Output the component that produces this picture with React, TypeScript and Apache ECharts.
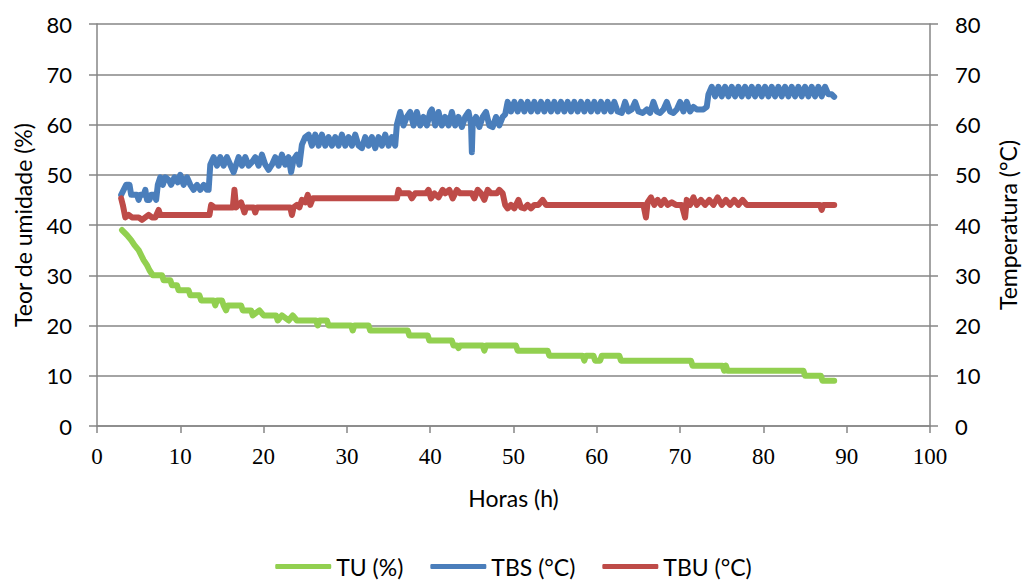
import React, { useEffect, useRef } from "react";
import * as echarts from "echarts";

const xTicks = [0, 10, 20, 30, 40, 50, 60, 70, 80, 90, 100];
const seriesNames = ["TU (%)", "TBS (°C)", "TBU (°C)"];
const colors = ["#92D050", "#4A7EBB", "#BE4B48"];

const tuData: number[][] = [
  [3, 39], [3.6, 38], [4.1, 37], [4.5, 36], [5, 35], [5.3, 34], [5.6, 33], [6, 32], [6.3, 31], [6.7, 30],
  [7.8, 30], [8, 29], [8.8, 29], [9, 28], [9.6, 28], [9.8, 27], [11, 27], [11.2, 26], [12.3, 26], [12.5, 25],
  [14, 25], [14.2, 24], [14.4, 25], [15, 25], [15.2, 24], [15.5, 23], [15.7, 24], [17.3, 24], [17.5, 23],
  [18.5, 23], [18.7, 22], [19.5, 23], [20, 22], [21.5, 22], [21.7, 21], [22.2, 22], [23, 21], [23.5, 22],
  [24, 21], [26.3, 21], [26.5, 20], [26.7, 21], [27.6, 21], [27.8, 20], [30.5, 20], [30.7, 19], [30.9, 20],
  [32.6, 20], [32.8, 19], [37.3, 19], [37.5, 18], [39.7, 18], [39.9, 17], [42.6, 17], [42.8, 16], [43.2, 16],
  [43.4, 15.5], [43.6, 16], [46.3, 16], [46.5, 15], [46.7, 16], [50.3, 16], [50.5, 15], [54.1, 15], [54.3, 14],
  [58.3, 14], [58.5, 13], [58.7, 14], [59.6, 14], [59.8, 13], [60.4, 13], [60.6, 14], [62.7, 14], [62.9, 13],
  [71.3, 13], [71.5, 12], [75.1, 12], [75.3, 11], [75.5, 12], [75.7, 11], [84.8, 11], [85, 10], [86.9, 10],
  [87.1, 9], [88.5, 9],
];

const tbsData: number[][] = [
  [2.9, 46], [3.2, 47], [3.5, 48], [3.9, 48], [4.1, 46], [4.5, 46], [4.8, 46], [5.0, 45], [5.2, 46], [5.6, 46],
  [5.8, 47], [6.0, 45], [6.3, 45], [6.5, 46], [6.9, 46], [7.1, 45], [7.3, 48], [7.6, 49.5], [7.9, 48], [8.2, 49.5],
  [8.6, 49], [8.9, 48], [9.3, 49.5], [9.7, 48.5], [10.0, 50], [10.4, 48], [10.8, 49.5], [11.2, 48], [11.6, 47],
  [12.0, 48], [12.4, 47], [12.8, 48], [13.2, 47], [13.4, 47], [13.6, 52], [14.0, 53.5], [14.4, 51.8], [14.8, 53.5],
  [15.2, 51.8], [15.6, 53.5], [16.0, 52], [16.4, 50.5], [16.7, 52], [17.0, 53.5], [17.4, 51.8], [17.8, 53.5], [18.2, 51.8],
  [18.6, 52.5], [19.0, 53.5], [19.4, 51.8], [19.8, 54], [20.2, 52], [20.6, 51], [21.0, 52], [21.4, 53.5], [21.8, 51.8],
  [22.2, 54], [22.6, 52], [23.0, 53.5], [23.3, 50.5], [23.6, 53], [24.0, 54], [24.3, 52], [24.6, 56], [25.0, 57.5],
  [25.4, 58], [25.8, 55.8], [26.2, 58], [26.6, 55.8], [27.0, 58], [27.4, 55.8], [27.8, 57.5], [28.2, 55.8], [28.6, 57.5],
  [29.0, 55.8], [29.4, 58], [29.8, 55.8], [30.2, 57.5], [30.6, 55.8], [31.0, 58], [31.4, 55.8], [31.8, 55.3], [32.2, 57.5],
  [32.6, 55.8], [33.0, 57.5], [33.4, 55.3], [33.8, 57.5], [34.2, 55.8], [34.6, 58], [35.0, 55.8], [35.4, 57.5], [35.8, 55.8],
  [36.0, 60], [36.4, 62.5], [36.8, 59.8], [37.2, 61.5], [37.6, 62.5], [38.0, 59.8], [38.4, 62.5], [38.8, 59.8], [39.2, 61.5],
  [39.6, 59.8], [40.0, 62.5], [40.2, 63], [40.6, 59.8], [41.0, 62.5], [41.4, 59.8], [41.8, 61.5], [42.2, 59.8], [42.6, 62.5],
  [43.0, 59.8], [43.4, 61.5], [43.8, 59.5], [44.2, 61.5], [44.6, 62.5], [44.9, 60], [45.0, 54.5], [45.1, 60], [45.5, 61.5],
  [45.9, 59.5], [46.3, 61.5], [46.7, 62.5], [47.1, 59.8], [47.5, 59.5], [47.9, 61.5], [48.3, 59.8], [48.7, 61.5], [49.0, 62],
  [49.3, 64.5], [49.7, 62.6], [50.1, 64.5], [50.5, 62.6], [50.9, 64.5], [51.3, 62.6], [51.7, 64.5], [52.1, 62.6], [52.5, 64.5],
  [52.9, 62.6], [53.3, 64.5], [53.7, 62.6], [54.1, 64.5], [54.5, 62.6], [54.9, 64.5], [55.3, 62.6], [55.7, 64.5], [56.1, 62.6],
  [56.5, 64.5], [56.9, 62.6], [57.3, 64.5], [57.7, 62.6], [58.1, 64.5], [58.5, 62.6], [58.9, 64.5], [59.3, 62.6], [59.7, 64.5],
  [60.1, 62.6], [60.5, 64.5], [60.9, 62.6], [61.3, 64.5], [61.7, 62.6], [62.1, 64.5], [62.5, 62.6], [63.0, 62.3], [63.4, 64.5],
  [63.8, 62.6], [64.2, 63], [64.6, 64.5], [65.0, 62.6], [65.5, 62.3], [66.0, 63], [66.4, 62.3], [66.8, 64.5], [67.2, 62.6],
  [67.6, 62.3], [68.0, 63], [68.4, 64.5], [68.8, 62.6], [69.2, 62.3], [69.6, 63], [70.0, 64.5], [70.4, 62.6], [70.8, 64.5],
  [71.2, 62.6], [71.6, 63.5], [72.0, 63], [72.4, 63], [72.8, 63], [73.2, 63.5], [73.4, 66], [73.8, 67.5], [74.2, 65.6],
  [74.6, 67.5], [75.0, 65.6], [75.4, 67.5], [75.8, 65.6], [76.2, 67.5], [76.6, 65.6], [77.0, 67.5], [77.4, 65.6], [77.8, 67.5],
  [78.2, 65.6], [78.6, 67.5], [79.0, 65.6], [79.4, 67.5], [79.8, 65.6], [80.2, 67.5], [80.6, 65.6], [81.0, 67.5], [81.4, 65.6],
  [81.8, 67.5], [82.2, 65.6], [82.6, 67.5], [83.0, 65.6], [83.4, 67.5], [83.8, 65.6], [84.2, 67.5], [84.6, 65.6], [85.0, 67.5],
  [85.4, 65.6], [85.8, 67.5], [86.2, 65.6], [86.6, 67.5], [87.0, 65.6], [87.4, 67.5], [87.8, 66], [88.2, 66], [88.5, 65.5],
];

const tbuData: number[][] = [
  [2.9, 45.3], [3.1, 44], [3.4, 41.5], [3.8, 42], [4.2, 41.5], [5.0, 41.5], [5.4, 41], [5.8, 41.5], [6.2, 42],
  [6.6, 41.5], [7.0, 41.5], [7.4, 43], [7.6, 42], [13.5, 42], [13.7, 44], [14.1, 43.5], [14.4, 43.5], [16.3, 43.5],
  [16.5, 47], [16.7, 43.5], [17.3, 44.5], [17.5, 43.5], [17.7, 42.5], [17.9, 43.5], [18.8, 43.5], [19.0, 42.5],
  [19.2, 43.5], [23.2, 43.5], [23.4, 42], [23.6, 43.5], [24.0, 44], [24.3, 43.5], [24.6, 45], [25.0, 44.5],
  [25.3, 46], [25.6, 44], [25.9, 45.3], [36.0, 45.3], [36.2, 47], [36.4, 46.3], [37.5, 46.3], [37.8, 45.3],
  [38.2, 46.3], [39.5, 46.3], [39.8, 47], [40.1, 45.3], [40.5, 46.3], [41.0, 45.5], [41.5, 47], [41.8, 46.3],
  [42.3, 47], [42.7, 45.3], [43.2, 47], [43.6, 46.3], [45.0, 46.3], [45.3, 45.3], [45.7, 47], [46.1, 46.3],
  [46.5, 45], [46.9, 47], [47.3, 46.3], [48.0, 46.3], [48.3, 47], [48.7, 46.3], [49.0, 44], [49.3, 43.3],
  [49.7, 44], [50.1, 43.3], [50.6, 45], [50.9, 43.5], [51.3, 43.3], [51.7, 44], [52.1, 43.3], [52.5, 44],
  [53.0, 44], [53.5, 45], [53.9, 44], [65.6, 44], [65.9, 41.5], [66.1, 44.5], [66.5, 45.5], [66.9, 44],
  [67.3, 45], [67.7, 44], [68.1, 45], [68.5, 44], [69.0, 44.5], [69.5, 44], [70.2, 44], [70.6, 41.5], [70.8, 45],
  [71.2, 44], [71.6, 45.5], [72.0, 44], [72.5, 45], [73.0, 44], [73.5, 45], [74.0, 44], [74.5, 45.5], [75.0, 44],
  [75.5, 45], [76.0, 44], [76.5, 45], [77.0, 44], [77.5, 45], [78.0, 44], [86.8, 44], [87.0, 43], [87.2, 44],
  [88.5, 44],
];

const sans = "Lato, 'Liberation Sans', sans-serif";
const serif = "'Liberation Serif', 'Times New Roman', serif";
const axisGray = "#868686";

export default function App() {
  const ref = useRef<HTMLDivElement>(null);
  useEffect(() => {
    if (!ref.current) return;
    const chart = echarts.init(ref.current, undefined, { renderer: "svg" });
    const yAxisCommon = {
      type: "value" as const,
      min: 0,
      max: 80,
      interval: 10,
      nameLocation: "middle" as const,
      nameRotate: 90,
      nameTextStyle: { fontFamily: sans, fontSize: 23, color: "#000" },
      axisLine: { show: true, lineStyle: { color: axisGray, width: 1.5 } },
      axisTick: { show: true, inside: false, length: 8, lineStyle: { color: axisGray, width: 1.5 } },
      axisLabel: { fontFamily: sans, fontSize: 22, color: "#000", margin: 25 },
    };
    chart.setOption({
      animation: false,
      backgroundColor: "#fff",
      grid: { left: 97, right: 95, top: 24, bottom: 157 },
      legend: {
        bottom: 0,
        left: "center",
        data: seriesNames,
        icon: "roundRect",
        itemWidth: 56,
        itemHeight: 5,
        itemGap: 27,
        textStyle: { fontFamily: sans, fontSize: 23, color: "#000", padding: [0, 0, 0, 0] },
      },
      xAxis: {
        type: "value",
        min: xTicks[0],
        max: xTicks[xTicks.length - 1],
        interval: 10,
        name: "Horas (h)",
        nameLocation: "middle",
        nameGap: 60,
        nameTextStyle: { fontFamily: sans, fontSize: 23, color: "#000" },
        axisLine: { show: true, lineStyle: { color: axisGray, width: 1.5 } },
        axisTick: { show: true, inside: false, length: 7, lineStyle: { color: axisGray, width: 1.5 } },
        axisLabel: { fontFamily: serif, fontSize: 23, color: "#000", margin: 19 },
        splitLine: { show: false },
      },
      yAxis: [
        {
          ...yAxisCommon,
          name: "Teor de umidade (%)",
          position: "left",
          nameGap: 63,
          splitLine: { show: true, lineStyle: { color: axisGray, width: 1.5 } },
        },
        {
          ...yAxisCommon,
          name: "Temperatura (°C)",
          position: "right",
          nameGap: 66,
          splitLine: { show: false },
        },
      ],
      series: [
        { name: seriesNames[0], data: tuData, yAxisIndex: 0, color: colors[0] },
        { name: seriesNames[1], data: tbsData, yAxisIndex: 1, color: colors[1] },
        { name: seriesNames[2], data: tbuData, yAxisIndex: 1, color: colors[2] },
      ].map((s) => ({
        ...s,
        type: "line",
        showSymbol: false,
        symbol: "none",
        lineStyle: { width: 6, cap: "round", join: "round", color: s.color },
        itemStyle: { color: s.color },
      })),
    });
    return () => chart.dispose();
  }, []);
  return (
    <div
      ref={ref}
      style={{ position: "fixed", left: 0, top: 0, width: 1027, height: 583, background: "#fff" }}
    />
  );
}
